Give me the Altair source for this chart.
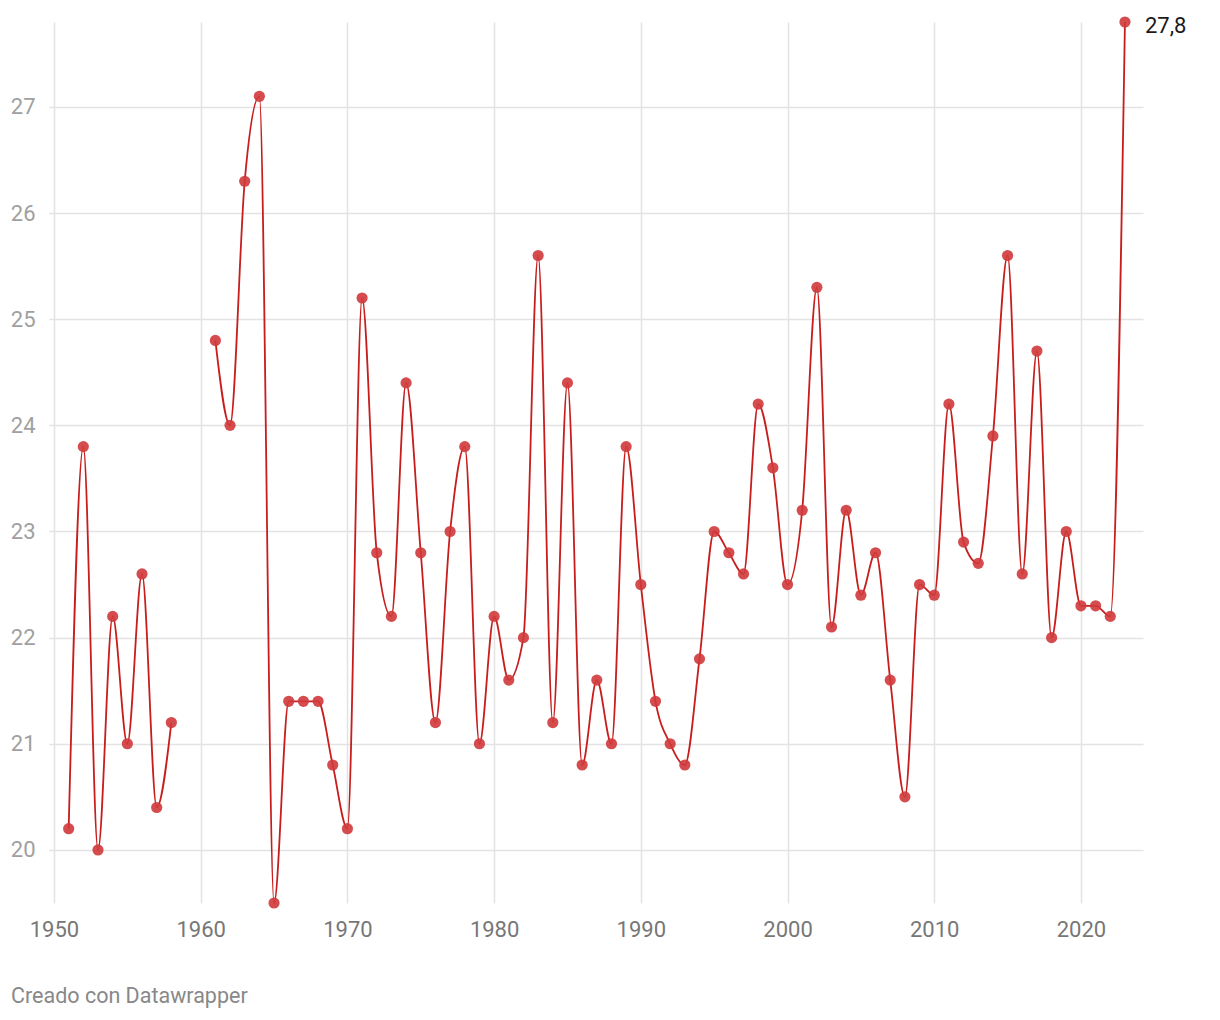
import altair as alt
import pandas as pd

years = [1951, 1952, 1953, 1954, 1955, 1956, 1957, 1958,
         1961, 1962, 1963, 1964, 1965, 1966, 1967, 1968, 1969, 1970,
         1971, 1972, 1973, 1974, 1975, 1976, 1977, 1978, 1979, 1980,
         1981, 1982, 1983, 1984, 1985, 1986, 1987, 1988, 1989, 1990,
         1991, 1992, 1993, 1994, 1995, 1996, 1997, 1998, 1999, 2000,
         2001, 2002, 2003, 2004, 2005, 2006, 2007, 2008, 2009, 2010,
         2011, 2012, 2013, 2014, 2015, 2016, 2017, 2018, 2019, 2020,
         2021, 2022, 2023]
values = [20.2, 23.8, 20.0, 22.2, 21.0, 22.6, 20.4, 21.2,
          24.8, 24.0, 26.3, 27.1, 19.5, 21.4, 21.4, 21.4, 20.8, 20.2,
          25.2, 22.8, 22.2, 24.4, 22.8, 21.2, 23.0, 23.8, 21.0, 22.2,
          21.6, 22.0, 25.6, 21.2, 24.4, 20.8, 21.6, 21.0, 23.8, 22.5,
          21.4, 21.0, 20.8, 21.8, 23.0, 22.8, 22.6, 24.2, 23.6, 22.5,
          23.2, 25.3, 22.1, 23.2, 22.4, 22.8, 21.6, 20.5, 22.5, 22.4,
          24.2, 22.9, 22.7, 23.9, 25.6, 22.6, 24.7, 22.0, 23.0, 22.3,
          22.3, 22.2, 27.8]
segments = ["a" if y < 1960 else "b" for y in years]
x_ticks = [1950, 1960, 1970, 1980, 1990, 2000, 2010, 2020]
y_ticks = [20, 21, 22, 23, 24, 25, 26, 27]
last_label = ["27,8"]

df = pd.DataFrame({"year": years, "value": values, "seg": segments})
df_last = pd.DataFrame({"year": [years[-1]], "value": [values[-1]], "label": last_label})

FONT = "Roboto"
RED = "#c71e1d"

x = alt.X("year:Q",
          scale=alt.Scale(domain=[1949.66, 2024.23], nice=False, zero=False),
          axis=alt.Axis(values=x_ticks, format="d", title=None, grid=True,
                        gridColor="#e3e3e3", gridWidth=1.5, domain=False, ticks=False,
                        labelFont=FONT, labelFontSize=22, labelColor="#777777",
                        labelPadding=16, labelFlush=False))
y = alt.Y("value:Q",
          scale=alt.Scale(domain=[19.5, 27.8], nice=False, zero=False),
          axis=alt.Axis(values=y_ticks, format="d", title=None, grid=True,
                        gridColor="#e3e3e3", gridWidth=1.5, domain=False, ticks=False,
                        labelFont=FONT, labelFontSize=22, labelColor="#a0a0a0",
                        labelPadding=14))

line = alt.Chart(df).mark_line(interpolate="monotone", color=RED, strokeWidth=1.8).encode(
    x=x, y=y, detail="seg:N")
pts = alt.Chart(df).mark_circle(color="#d0393b", opacity=0.9, size=125).encode(x=x, y=y)
lbl = alt.Chart(df_last).mark_text(align="left", baseline="middle", dx=20, dy=4,
                                   font=FONT, fontSize=22, color="#1a1a1a").encode(
    x=x, y=y, text="label:N")
footer = alt.Chart(pd.DataFrame({"t": ["Creado con Datawrapper"]})).mark_text(
    align="left", baseline="middle", font=FONT, fontSize=21.5, color="#888888").encode(
    x=alt.value(-38), y=alt.value(975), text="t:N")

chart = alt.layer(line, pts, lbl, footer).properties(
    width=1094, height=881,
    background="white",
    autosize=alt.AutoSizeParams(type="none"),
    padding={"left": 49, "top": 22, "right": 77, "bottom": 117},
).configure_view(stroke=None, strokeWidth=0)

chart.save("out.html", embed_options={"renderer": "svg", "actions": False})
